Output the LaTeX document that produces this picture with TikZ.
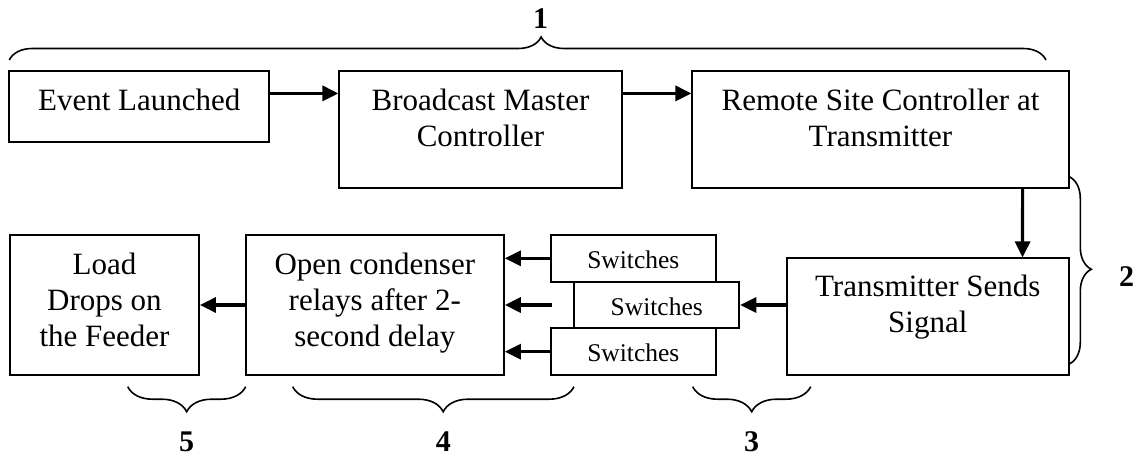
\documentclass[tikz,border=0pt]{standalone}
\usepackage{fontspec}
\setmainfont{Liberation Serif}
\usetikzlibrary{arrows.meta,decorations.pathreplacing}
\newcommand\bxtext[4]{\parbox[c][#2pt][t]{#1pt}{\centering\vspace*{#3pt}\strut #4}}
\tikzset{
  blk/.style={draw, line width=1.8pt, inner sep=0pt, font=\fontsize{31}{36}\selectfont},
  swb/.style={draw, line width=1.8pt, inner sep=0pt, font=\fontsize{25.5}{29.3}\selectfont},
  arr/.style={line width=3.2pt, -{Triangle[length=16pt,width=15pt]}},
  brc/.style={line width=1.6pt, decorate},
  num/.style={font=\fontsize{30}{36}\selectfont\bfseries, anchor=base, inner sep=0pt}
}
\begin{document}
\begin{tikzpicture}[x=1pt,y=-1pt]
\useasboundingbox (0,0) rectangle (1140,457);
% top row
\node[blk] (ev) at (139.3,106.2) {\bxtext{260}{71}{14.8}{Event Launched}};
\node[blk] (bm) at (480.5,129.5) {\bxtext{282.4}{117.6}{14.8}{Broadcast Master\\Controller}};
\node[blk] (rs) at (880.5,129.5) {\bxtext{376.4}{117.6}{14.8}{Remote Site Controller at\\Transmitter}};
% bottom row
\node[blk] (tx) at (927.8,316.7) {\bxtext{282.3}{116.7}{13.2}{Transmitter Sends\\Signal}};
\node[swb] (sw1) at (633.3,258.3) {\bxtext{165.3}{46.7}{12.8}{Switches}};
\node[swb] (sw2) at (656.7,305) {\bxtext{165.3}{46.6}{12.8}{Switches}};
\node[swb] (sw3) at (633.3,351.7) {\bxtext{165.3}{46.7}{12.8}{Switches}};
\node[blk] (oc) at (374.8,305) {\bxtext{258.3}{140}{13.8}{Open condenser\\relays after 2-\\second delay}};
\node[blk] (ld) at (104.5,305) {\bxtext{189}{140}{13.8}{Load\\Drops on\\the Feeder}};
% arrows
\draw[arr] ([yshift=-23.6pt]ev.north east) -- ([yshift=-23.6pt]bm.north west);
\draw[arr] ([yshift=-23.6pt]bm.north east) -- ([yshift=-23.6pt]rs.north west);
\draw[arr] ([xshift=-47pt]rs.south east) -- ([xshift=-47.3pt]tx.north east);
\draw[arr] (tx.west |- sw2.center) -- (sw2.east);
\draw[arr] (sw1.west) -- (oc.east |- sw1.center);
\draw[arr] ([xshift=2pt]sw1.west |- sw2.center) -- (oc.east |- sw2.center);
\draw[arr] (sw3.west) -- (oc.east |- sw3.center);
\draw[arr] (oc.west) -- (ld.east |- oc.west);
% braces
\draw[brc, decoration={brace, amplitude=23pt, aspect=0.513}] (9.3,60) -- (1046,60);
\draw[brc, decoration={brace, amplitude=22pt, aspect=0.494}] (1069.3,176.7) -- (1069.3,364);
\draw[brc, decoration={brace, amplitude=25pt, aspect=0.5}] (810.7,386.7) -- (692.7,386.7);
\draw[brc, decoration={brace, amplitude=25pt, aspect=0.465}] (574,386.7) -- (292.7,386.7);
\draw[brc, decoration={brace, amplitude=25pt, aspect=0.5}] (245.7,386.7) -- (127.7,386.7);
% labels
\node[num] (n1) at (540.5,29) {1};
\node[num] (n2) at (1126.7,286.7) {2};
\node[num] (n3) at (751.7,451) {3};
\node[num] (n4) at (443.3,451) {4};
\node[num] (n5) at (186.7,451) {5};
\end{tikzpicture}
\end{document}
